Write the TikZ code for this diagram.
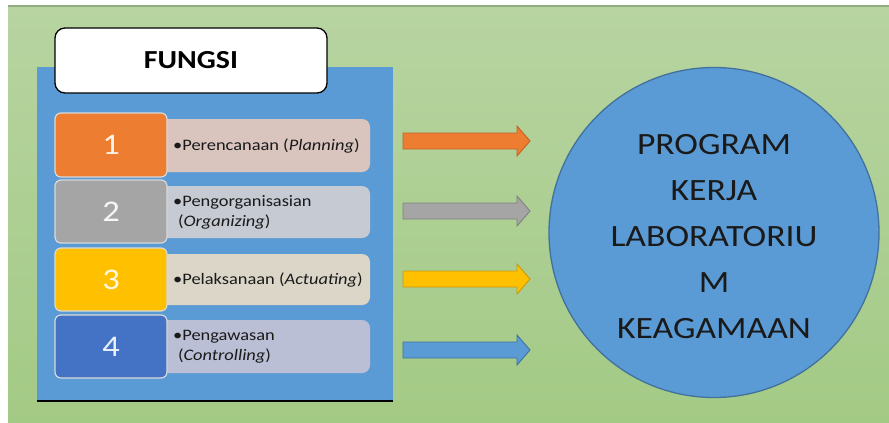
\documentclass[tikz,border=0pt]{standalone}
\usepackage{fontspec}
\setmainfont{Carlito}[FakeStretch=1.15]
\definecolor{bgtop}{HTML}{B7D4A1}
\definecolor{bgbot}{HTML}{A3CA85}
\definecolor{panel}{HTML}{5B9BD5}
\definecolor{panelline}{HTML}{41719C}
\definecolor{c1}{HTML}{ED7D31}
\definecolor{c2}{HTML}{A5A5A5}
\definecolor{c3}{HTML}{FFC000}
\definecolor{c4}{HTML}{4472C4}
\definecolor{t1}{HTML}{D9C4BE}
\definecolor{t2}{HTML}{C6CAD3}
\definecolor{t3}{HTML}{DCD6C9}
\definecolor{t4}{HTML}{BBBFD6}
\definecolor{o1}{HTML}{C0622A}
\definecolor{o2}{HTML}{808080}
\definecolor{o3}{HTML}{C99A10}
\definecolor{o4}{HTML}{41719C}
\definecolor{ink}{HTML}{1A1A1A}
\tikzset{
  numbox/.style={draw=white!85!black, line width=1.2pt, rounded corners=6pt, minimum width=112pt, minimum height=63pt, inner sep=0pt, text=white, text opacity=0.9, font=\fontsize{30}{30}\selectfont},
  txtbox/.style={rounded corners=8pt, minimum width=210pt, minimum height=52pt, inner sep=0pt},
  txt/.style={anchor=west, align=left, text=ink, font=\fontsize{16}{20}\selectfont, inner sep=0pt},
  blockarrow/.style={line width=0.9pt, line join=miter},
}
\begin{document}
\begin{tikzpicture}[x=1pt,y=-1pt]
\useasboundingbox (0,0) rectangle (889,423);
\fill[white] (0,0) rectangle (889,423);
% background
\shade[top color=bgtop, bottom color=bgbot] (8,6) rectangle (889,423);
\draw[color=black!20!bgtop, line width=1.2pt] (8,6) -- (889,6);
% panel
\node[fill=panel, minimum width=356pt, minimum height=334pt, inner sep=0pt] (panel) at (215,234) {};
\draw[black, line width=1.6pt] (panel.south west) -- (panel.south east);
% title
\node[draw=black, line width=1.3pt, fill=white, rounded corners=10pt, minimum width=272pt, minimum height=65pt, font=\bfseries\fontsize{26}{26}\selectfont] (title) at (191,60.5) {FUNGSI};
% rows
\node[txtbox, fill=t1, minimum height=53pt] (tb1) at (265,145.5) {};
\node[txtbox, fill=t2] (tb2) at (265,212) {};
\node[txtbox, fill=t3, minimum height=51pt] (tb3) at (265,279.5) {};
\node[txtbox, fill=t4, minimum height=53pt] (tb4) at (265,346.5) {};
\node[numbox, fill=c1, minimum height=64pt] (n1) at (111,145) {1};
\node[numbox, fill=c2] (n2) at (111,211.5) {2};
\node[numbox, fill=c3] (n3) at (111,279.5) {3};
\node[numbox, fill=c4] (n4) at (111,346.5) {4};
\node[txt] (l1) at (173,146) {•Perencanaan (\textit{Planning})};
\node[txt] (l2) at (173,212) {•Pengorganisasian\\\hspace{0.3em}(\textit{Organizing})};
\node[txt] (l3) at (173,280) {•Pelaksanaan (\textit{Actuating})};
\node[txt] (l4) at (173,347) {•Pengawasan\\\hspace{0.3em}(\textit{Controlling})};
% arrows
\coordinate (a1) at (403,141);
\coordinate (a2) at (403,211);
\coordinate (a3) at (403,279);
\coordinate (a4) at (403,350);
\foreach \a/\f/\o in {a1/c1/o1, a2/c2/o2, a3/c3/o3, a4/panel/o4}{
  \draw[blockarrow, fill=\f, draw=\o] (\a) ++(0,-8) -- ++(114,0) -- ++(0,-7) -- ++(13,15) -- ++(-13,15) -- ++(0,-7) -- ++(-114,0) -- cycle;
}
% circle
\node[circle, fill=panel, draw=panelline, line width=1.3pt, minimum size=330pt, inner sep=0pt] (prog) at (714,232.5) {};
\node[align=center, text=ink, font=\fontsize{31}{46}\selectfont, inner sep=0pt] (progtext) at (714,237) {PROGRAM\\KERJA\\LABORATORIU\\M\\KEAGAMAAN};
\end{tikzpicture}
\end{document}
